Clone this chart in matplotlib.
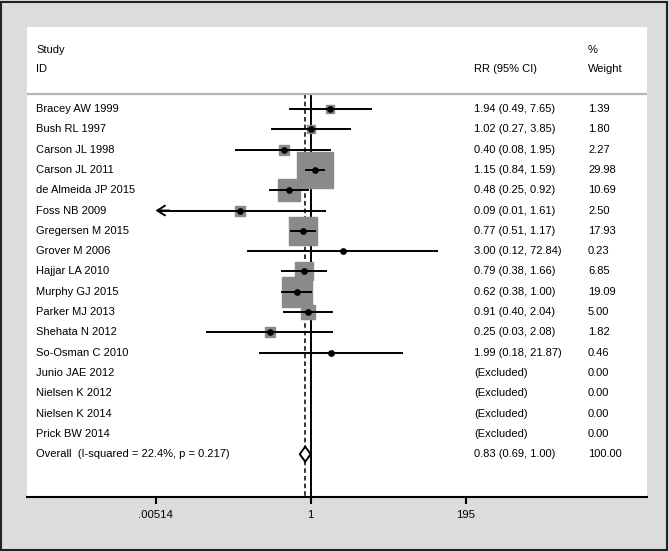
import numpy as np
from matplotlib import pyplot as plt
from matplotlib.patches import Polygon, Rectangle
from matplotlib.ticker import NullLocator

plt.rcParams['font.family'] = ['Liberation Sans', 'DejaVu Sans']

studies = ['Bracey AW 1999', 'Bush RL 1997', 'Carson JL 1998', 'Carson JL 2011',
           'de Almeida JP 2015', 'Foss NB 2009', 'Gregersen M 2015', 'Grover M 2006',
           'Hajjar LA 2010', 'Murphy GJ 2015', 'Parker MJ 2013', 'Shehata N 2012',
           'So-Osman C 2010', 'Junio JAE 2012', 'Nielsen K 2012', 'Nielsen K 2014',
           'Prick BW 2014']
rr = [1.94, 1.02, 0.40, 1.15, 0.48, 0.09, 0.77, 3.00, 0.79, 0.62, 0.91, 0.25, 1.99,
      np.nan, np.nan, np.nan, np.nan]
ci_low = [0.49, 0.27, 0.08, 0.84, 0.25, 0.005, 0.51, 0.12, 0.38, 0.38, 0.40, 0.03, 0.18,
          np.nan, np.nan, np.nan, np.nan]
ci_high = [7.65, 3.85, 1.95, 1.59, 0.92, 1.61, 1.17, 72.84, 1.66, 1.00, 2.04, 2.08, 21.87,
           np.nan, np.nan, np.nan, np.nan]
weights = [1.39, 1.80, 2.27, 29.98, 10.69, 2.50, 17.93, 0.23, 6.85, 19.09, 5.00, 1.82, 0.46,
           0.00, 0.00, 0.00, 0.00]

overall_label = 'Overall  (I-squared = 22.4%, p = 0.217)'
overall_rr, overall_low, overall_high, overall_w = 0.83, 0.69, 1.00, 100.00

tick_values = [0.00514, 1, 195]
tick_labels = ['.00514', '1', '195']

fig = plt.figure(figsize=(6.69, 5.52), dpi=100, facecolor='#dcdcdc')
fig.patches.append(Rectangle((0.002, 0.003), 0.995, 0.993, transform=fig.transFigure,
                             fill=False, edgecolor='#222222', linewidth=1.5))

ax = fig.add_axes([27 / 669, 1 - 497 / 552, 620 / 669, 470 / 552])
ax.set_facecolor('white')
ax.set_xscale('log')
ax.set_xlim(np.exp(-9.636), np.exp(11.423))
ax.set_ylim(19.11, -4.04)
for side in ['top', 'left', 'right']:
    ax.spines[side].set_visible(False)
ax.spines['bottom'].set_linewidth(1.5)
ax.set_yticks([])
ax.set_xticks(tick_values)
ax.set_xticklabels(tick_labels)
ax.xaxis.set_minor_locator(NullLocator())
ax.tick_params(axis='x', length=5, width=1.5, pad=4, labelsize=8.2)

fs = 8.0
x_rr = (474 - 27) / 620
x_w = (588 - 27) / 620
x_lab = (36 - 27) / 620
tr = ax.get_yaxis_transform()

# header
ax.text(x_lab, -2.9, 'Study', transform=tr, fontsize=fs, va='center')
ax.text(x_lab, -1.97, 'ID', transform=tr, fontsize=fs, va='center')
ax.text(x_rr, -1.97, 'RR (95% CI)', transform=tr, fontsize=fs, va='center')
ax.text(x_w, -2.9, '%', transform=tr, fontsize=fs, va='center')
ax.text(x_w, -1.97, 'Weight', transform=tr, fontsize=fs, va='center')
ax.axhline(-0.74, color='#b4b4b4', linewidth=1.6)

# reference lines
ax.plot([1, 1], [-0.74, 19.11], color='black', linewidth=1.4, zorder=1)
ax.plot([overall_rr, overall_rr], [-0.74, 19.11], color='black', linewidth=1.1,
        linestyle=(0, (3, 2)), zorder=1)

xmin = tick_values[0]
for i, name in enumerate(studies):
    ax.text(x_lab, i, name, transform=tr, fontsize=fs, va='center')
    ax.text(x_w, i, f'{weights[i]:.2f}', transform=tr, fontsize=fs, va='center')
    if np.isnan(rr[i]):
        ax.text(x_rr, i, '(Excluded)', transform=tr, fontsize=fs, va='center')
        continue
    ax.text(x_rr, i, f'{rr[i]:.2f} ({ci_low[i]:.2f}, {ci_high[i]:.2f})', transform=tr,
            fontsize=fs, va='center')
    side = 6.7 * np.sqrt(weights[i]) * 0.72
    ax.plot(rr[i], i, marker='s', markersize=side, color='#8a8a8a', linestyle='none', zorder=2)
    if ci_low[i] < xmin:
        ax.plot([xmin * 1.15, ci_high[i]], [i, i], color='black', linewidth=1.4, zorder=3)
        ax.annotate('', xy=(xmin, i), xytext=(xmin * 1.6, i),
                    arrowprops=dict(arrowstyle='->,head_length=0.55,head_width=0.35',
                                    color='black', linewidth=1.4, shrinkA=0, shrinkB=0),
                    zorder=3)
    else:
        ax.plot([ci_low[i], ci_high[i]], [i, i], color='black', linewidth=1.4, zorder=3)
    ax.plot(rr[i], i, marker='o', markersize=3.8, color='black', linestyle='none', zorder=4)

# overall
yo = len(studies)
ax.text(x_lab, yo, overall_label, transform=tr, fontsize=fs, va='center')
ax.text(x_rr, yo, f'{overall_rr:.2f} ({overall_low:.2f}, {overall_high:.2f})', transform=tr,
        fontsize=fs, va='center')
ax.text(x_w, yo, f'{overall_w:.2f}', transform=tr, fontsize=fs, va='center')
h = 0.37
ax.add_patch(Polygon([(overall_low, yo), (overall_rr, yo - h), (overall_high, yo),
                      (overall_rr, yo + h)], closed=True, facecolor='white',
                     edgecolor='black', linewidth=1.4, zorder=4))

fig.savefig('out.png', dpi=100, facecolor=fig.get_facecolor())
